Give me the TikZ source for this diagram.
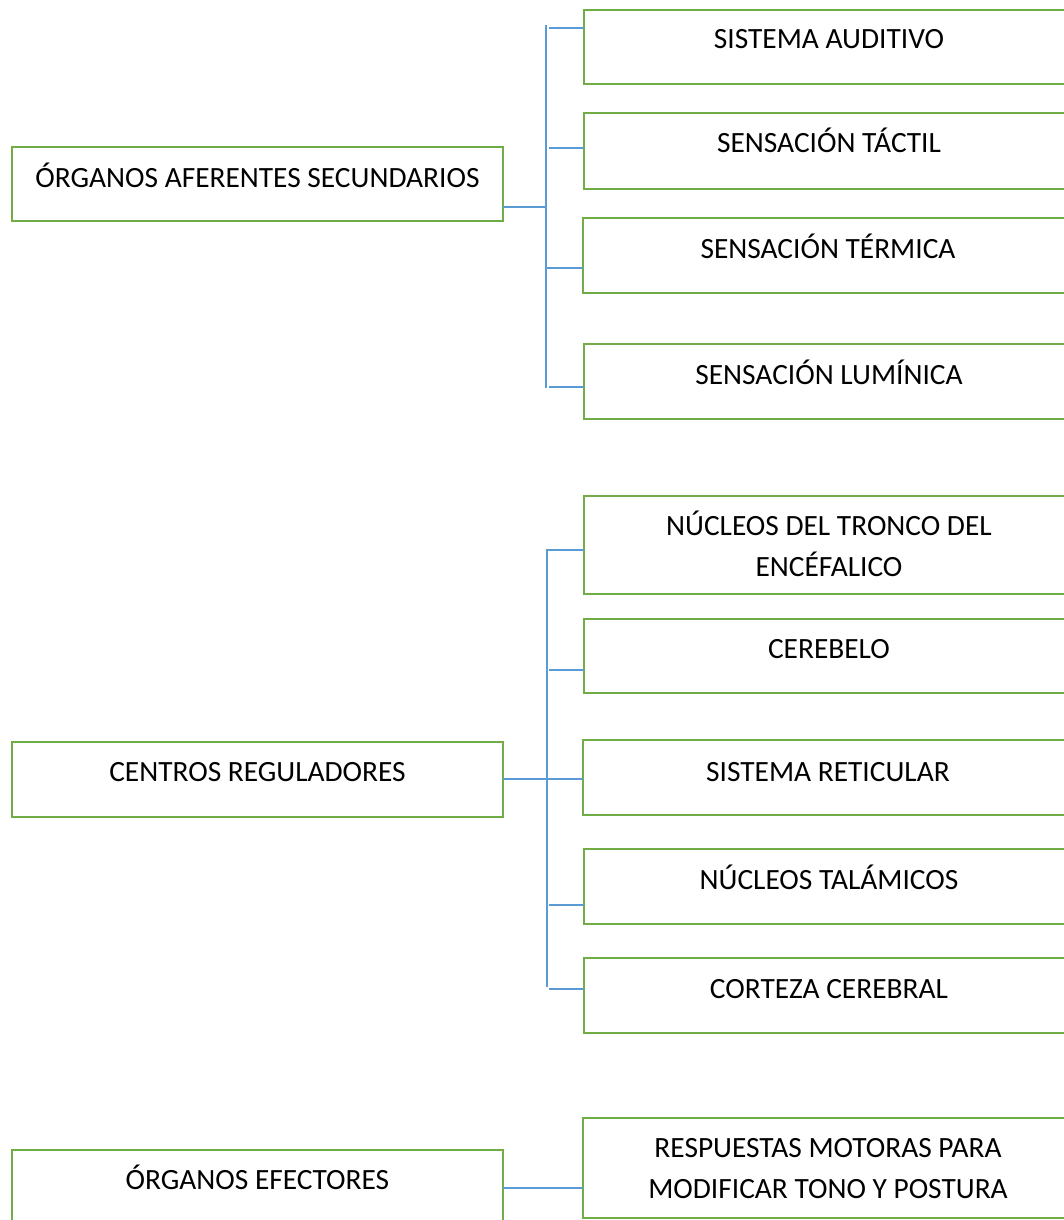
\documentclass[tikz,border=0pt]{standalone}
\usepackage{fontspec}
\setmainfont{Carlito}
\definecolor{boxgreen}{HTML}{70AD47}
\definecolor{linkblue}{HTML}{5B9BD5}

\begin{document}
\begin{tikzpicture}[x=0.5pt, y=-0.5pt,
    box/.style={draw=boxgreen, line width=1.3pt, anchor=north west, inner sep=0pt, outer sep=0pt},
    leftbox/.style={box, minimum width=245.5pt},
    rightbox/.style={box, minimum width=245pt},
    lbl/.style={anchor=base, inner sep=0pt, align=center, font=\fontsize{14.7}{20.5}\selectfont},
    link/.style={draw=linkblue, line width=1.15pt}]
    \useasboundingbox (0,0) rectangle (1064,1220);

    % organos aferentes
    \node[leftbox, minimum height=37pt] (afe) at (12,147) {};
    \node[rightbox, minimum height=37pt] (aud) at (584,10) {};
    \node[rightbox, minimum height=38pt] (tac) at (584,113) {};
    \node[rightbox, minimum height=37.5pt] (ter) at (583,218) {};
    \node[rightbox, minimum height=37.5pt] (lum) at (584,344) {};

    \node[lbl] (afe-t) at ([yshift=-20pt]afe.north) {ÓRGANOS AFERENTES SECUNDARIOS};
    \node[lbl] (aud-t) at ([yshift=-19.5pt]aud.north) {SISTEMA AUDITIVO};
    \node[lbl] (tac-t) at ([yshift=-19.5pt]tac.north) {SENSACIÓN TÁCTIL};
    \node[lbl] (ter-t) at ([yshift=-20pt]ter.north) {SENSACIÓN TÉRMICA};
    \node[lbl] (lum-t) at ([yshift=-20pt]lum.north) {SENSACIÓN LUMÍNICA};

    \coordinate (bus1a) at (546,25);
    \coordinate (bus1b) at (546,388);
    \draw[link] (bus1a) -- (bus1b);
    \coordinate (j-afe) at (546,207);
    \draw[link] (afe.east |- j-afe) -- (j-afe);
    \foreach \n/\x/\y in {aud/549/28, tac/549/148, ter/546/268, lum/549/387}{
        \coordinate (j-\n) at (\x,\y);
        \draw[link] (j-\n) -- (j-\n -| \n.west);
    }

    % centros reguladores
    \node[leftbox, minimum height=37.5pt] (cen) at (12,742) {};
    \node[rightbox, minimum height=49pt] (nuc) at (584,496) {};
    \node[rightbox, minimum height=37pt] (cer) at (584,619) {};
    \node[rightbox, minimum height=37.5pt] (ret) at (583,740) {};
    \node[rightbox, minimum height=37.5pt] (tal) at (584,849) {};
    \node[rightbox, minimum height=37.5pt] (cor) at (584,958) {};

    \node[lbl] (cen-t) at ([yshift=-19.5pt]cen.north) {CENTROS REGULADORES};
    \node[lbl] (nuc-t) at ([yshift=-40pt]nuc.north) {NÚCLEOS DEL TRONCO DEL\\ENCÉFALICO};
    \node[lbl] (cer-t) at ([yshift=-19.5pt]cer.north) {CEREBELO};
    \node[lbl] (ret-t) at ([yshift=-20.5pt]ret.north) {SISTEMA RETICULAR};
    \node[lbl] (tal-t) at ([yshift=-20pt]tal.north) {NÚCLEOS TALÁMICOS};
    \node[lbl] (cor-t) at ([yshift=-20pt]cor.north) {CORTEZA CEREBRAL};

    \coordinate (j-nuc) at (547,550);
    \coordinate (bus2b) at (547,987);
    \draw[link] (j-nuc -| nuc.west) -- (j-nuc) -- (bus2b);
    \coordinate (j-cen) at (547,779);
    \draw[link] (cen.east |- j-cen) -- (j-cen -| ret.west);
    \foreach \n/\y in {cer/670, tal/905, cor/989}{
        \coordinate (j-\n) at (549,\y);
        \draw[link] (j-\n) -- (j-\n -| \n.west);
    }

    % organos efectores
    \node[leftbox, minimum height=45pt] (efe) at (12,1150) {};
    \node[rightbox, minimum height=50pt] (res) at (583,1118) {};

    \node[lbl] (efe-t) at ([yshift=-19.5pt]efe.north) {ÓRGANOS EFECTORES};
    \node[lbl] (res-t) at ([yshift=-40pt]res.north) {RESPUESTAS MOTORAS PARA\\MODIFICAR TONO Y POSTURA};

    \coordinate (j-efe) at (543,1188);
    \draw[link] (j-efe -| efe.east) -- (j-efe -| res.west);
\end{tikzpicture}
\end{document}
